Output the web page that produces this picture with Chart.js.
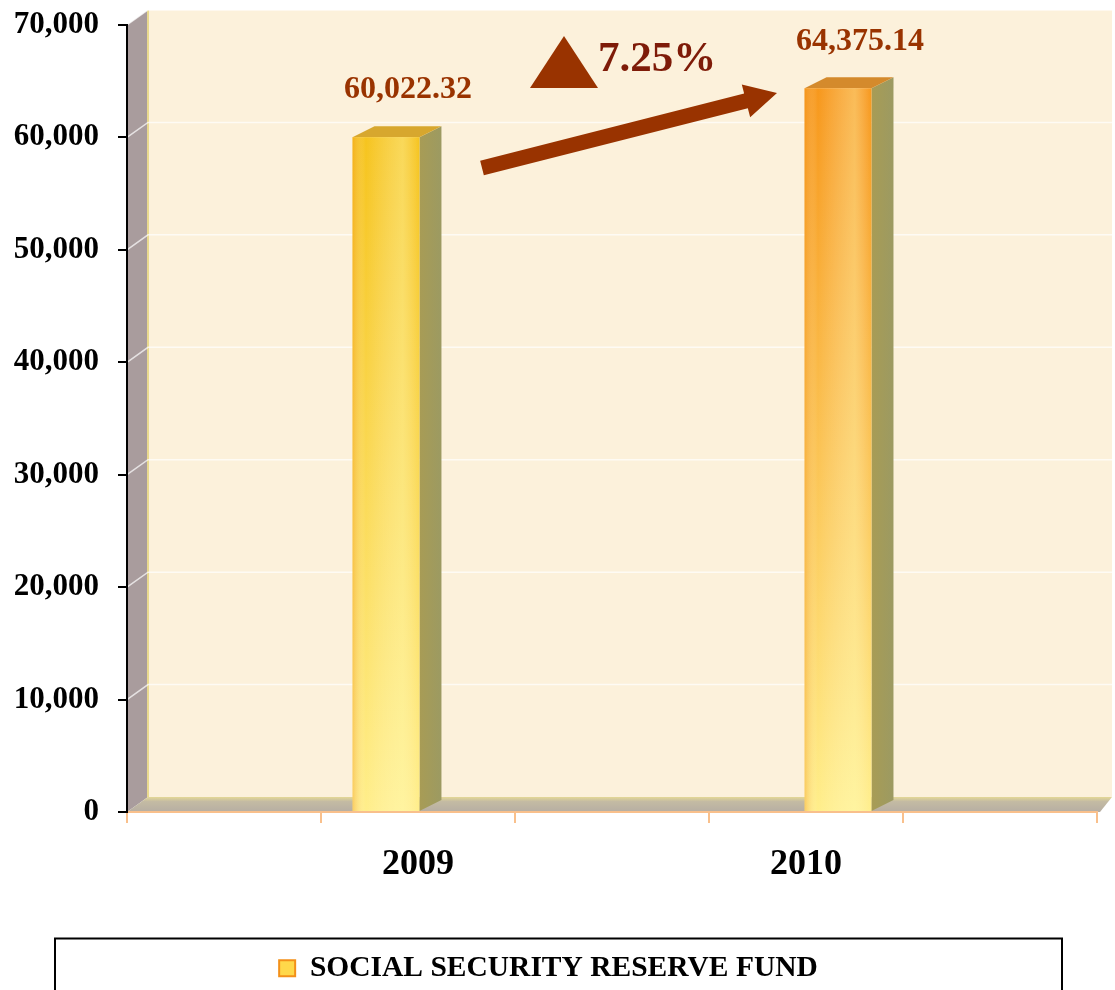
<!DOCTYPE html>
<html>
<head>
<meta charset="utf-8">
<script src="https://cdn.jsdelivr.net/npm/chart.js@4.4.1/dist/chart.umd.min.js"></script>
<style>
  html, body { margin: 0; padding: 0; background: #fff; }
  #wrap { width: 1115px; height: 990px; }
</style>
</head>
<body>
<div id="wrap"><canvas id="fund" width="1115" height="990"></canvas></div>
<script>
const years = ['2009', '2010'];
const fundValues = [60022.32, 64375.14];
const yTicks = [0, 10000, 20000, 30000, 40000, 50000, 60000, 70000];
const seriesName = 'SOCIAL SECURITY RESERVE FUND';

// the original sheet has empty slots round the two years
const labels = ['', years[0], '', years[1], ''];
const values = [null, fundValues[0], null, fundValues[1], null];

const serif = "'Liberation Serif', 'Times New Roman', serif";
Chart.defaults.font.family = serif;

const DX = 21, DY = -15;     // wall depth
const BDX = 22, BDY = -11;   // bar depth
const SPREAD = 1.165;        // perspective spread of bars
const barTops = ['#F6C41E', '#F7981C'];
const barRoofs = ['#D7A72E', '#D48A2C'];

const walls = {
  id: 'walls',
  beforeDraw(chart) {
    const { ctx, chartArea: a, scales: { y } } = chart;
    const r = a.right + 15;
    ctx.save();
    // back wall
    ctx.fillStyle = '#FCF1DB';
    ctx.fillRect(a.left + DX, a.top + DY, r - a.left - DX, a.bottom - a.top);
    // left wall
    ctx.fillStyle = '#A99C9D';
    ctx.beginPath();
    ctx.moveTo(a.left, a.top);
    ctx.lineTo(a.left + DX, a.top + DY);
    ctx.lineTo(a.left + DX, a.bottom + DY);
    ctx.lineTo(a.left, a.bottom);
    ctx.closePath();
    ctx.fill();
    ctx.strokeStyle = '#E9D98E';
    ctx.lineWidth = 2;
    ctx.beginPath();
    ctx.moveTo(a.left + DX, a.top + DY);
    ctx.lineTo(a.left + DX, a.bottom + DY);
    ctx.stroke();
    // gridlines
    ctx.strokeStyle = 'rgba(255,255,255,0.7)';
    ctx.lineWidth = 1.5;
    yTicks.forEach(v => {
      if (v === 0) return;
      const py = y.getPixelForValue(v);
      ctx.beginPath();
      ctx.moveTo(a.left, py);
      ctx.lineTo(a.left + DX, py + DY);
      ctx.lineTo(r, py + DY);
      ctx.stroke();
    });
    // floor
    const g = ctx.createLinearGradient(0, a.bottom + DY, 0, a.bottom);
    g.addColorStop(0, '#E4D896');
    g.addColorStop(0.3, '#C4BBA3');
    g.addColorStop(1, '#B6AEA3');
    ctx.fillStyle = g;
    ctx.beginPath();
    ctx.moveTo(a.left, a.bottom);
    ctx.lineTo(a.left + DX, a.bottom + DY);
    ctx.lineTo(r, a.bottom + DY);
    ctx.lineTo(a.right + 3, a.bottom);
    ctx.closePath();
    ctx.fill();
    ctx.restore();
  }
};

const bars3d = {
  id: 'bars3d',
  afterDatasetsDraw(chart) {
    const { ctx, chartArea: a } = chart;
    const cx = (a.left + a.right) / 2;
    let k = 0;
    chart.getDatasetMeta(0).data.forEach((bar, i) => {
      const v = values[i];
      if (v == null) return;
      const { x, y, base, width } = bar.getProps(['x', 'y', 'base', 'width'], true);
      const mid = cx + (x - cx) * SPREAD;
      const x0 = mid - width / 2, x1 = mid + width / 2;
      ctx.save();
      // side
      const sg = ctx.createLinearGradient(x1, 0, x1 + BDX, 0);
      sg.addColorStop(0, '#A89C55');
      sg.addColorStop(1, '#9C9A62');
      ctx.fillStyle = sg;
      ctx.beginPath();
      ctx.moveTo(x1, y);
      ctx.lineTo(x1 + BDX, y + BDY);
      ctx.lineTo(x1 + BDX, base + BDY);
      ctx.lineTo(x1, base);
      ctx.closePath();
      ctx.fill();
      // roof
      ctx.fillStyle = barRoofs[k];
      ctx.beginPath();
      ctx.moveTo(x0, y);
      ctx.lineTo(x0 + BDX, y + BDY);
      ctx.lineTo(x1 + BDX, y + BDY);
      ctx.lineTo(x1, y);
      ctx.closePath();
      ctx.fill();
      // front
      const fg = ctx.createLinearGradient(0, y, 0, base);
      fg.addColorStop(0, barTops[k]);
      fg.addColorStop(1, '#FFEE8A');
      ctx.fillStyle = fg;
      ctx.fillRect(x0, y, width, base - y);
      const hg = ctx.createLinearGradient(x0, 0, x1, 0);
      hg.addColorStop(0, 'rgba(240,140,20,0.35)');
      hg.addColorStop(0.2, 'rgba(255,255,255,0)');
      hg.addColorStop(0.75, 'rgba(255,255,200,0.35)');
      hg.addColorStop(1, 'rgba(255,255,255,0)');
      ctx.fillStyle = hg;
      ctx.fillRect(x0, y, width, base - y);
      // value label
      ctx.fillStyle = '#993300';
      ctx.font = 'bold 32px ' + serif;
      ctx.textAlign = 'center';
      ctx.textBaseline = 'middle';
      ctx.fillText(v.toLocaleString('en-US', { minimumFractionDigits: 2 }), mid + BDX, y - 47);
      ctx.restore();
      k++;
    });
  }
};

const growthNote = {
  id: 'growthNote',
  afterDraw(chart) {
    const { ctx, chartArea: a } = chart;
    const growth = (fundValues[1] / fundValues[0] - 1) * 100;
    ctx.save();
    ctx.fillStyle = '#993300';
    // triangle
    ctx.beginPath();
    ctx.moveTo(a.left + 403, a.top + 63);
    ctx.lineTo(a.left + 471, a.top + 63);
    ctx.lineTo(a.left + 437, a.top + 11);
    ctx.closePath();
    ctx.fill();
    // arrow
    const sx = a.left + 355, sy = a.top + 143, ex = a.left + 650, ey = a.top + 68;
    const ang = Math.atan2(ey - sy, ex - sx);
    const hl = 32, hw = 17, sw = 7.5;
    const bx = ex - hl * Math.cos(ang), by = ey - hl * Math.sin(ang);
    const nx = -Math.sin(ang), ny = Math.cos(ang);
    ctx.beginPath();
    ctx.moveTo(sx + nx * sw, sy + ny * sw);
    ctx.lineTo(bx + nx * sw, by + ny * sw);
    ctx.lineTo(bx + nx * hw, by + ny * hw);
    ctx.lineTo(ex, ey);
    ctx.lineTo(bx - nx * hw, by - ny * hw);
    ctx.lineTo(bx - nx * sw, by - ny * sw);
    ctx.lineTo(sx - nx * sw, sy - ny * sw);
    ctx.closePath();
    ctx.fill();
    // percent
    ctx.fillStyle = '#7E1B08';
    ctx.font = 'bold 43px ' + serif;
    ctx.textAlign = 'left';
    ctx.textBaseline = 'middle';
    ctx.fillText(growth.toFixed(2) + '%', a.left + 471, a.top + 35);
    // legend frame
    ctx.strokeStyle = '#000';
    ctx.lineWidth = 2;
    ctx.strokeRect(55, chart.legend.top - 5, 1007, 120);
    ctx.restore();
  }
};

new Chart(document.getElementById('fund'), {
  type: 'bar',
  data: {
    labels: labels,
    datasets: [{
      label: seriesName,
      data: values,
      backgroundColor: 'rgba(0,0,0,0)',
      borderWidth: 0,
      barPercentage: 0.345,
      categoryPercentage: 1
    }]
  },
  options: {
    responsive: false,
    animation: false,
    layout: { padding: { top: 25, right: 18, left: 0, bottom: -3 } },
    scales: {
      x: {
        grid: { offset: true, drawOnChartArea: false, color: '#F9C08C', tickLength: 11, lineWidth: 2 },
        border: { color: '#F9C08C', width: 2 },
        ticks: { color: '#000', font: { size: 36, weight: 'bold' }, padding: 20, maxRotation: 0, autoSkip: false },
        afterFit(s) { s.height = 131.5; }
      },
      y: {
        min: 0,
        max: 70000,
        afterBuildTicks(s) { s.ticks = yTicks.map(v => ({ value: v })); },
        ticks: { color: '#000', font: { size: 31, weight: 'bold' }, padding: 19,
                 callback: v => v.toLocaleString('en-US') },
        grid: { drawOnChartArea: false, color: '#000', tickLength: 9, lineWidth: 2 },
        border: { color: '#000', width: 2 },
        afterFit(s) { s.width = 127; s.paddingTop = 0; s.paddingBottom = 0; }
      }
    },
    plugins: {
      tooltip: { enabled: false },
      legend: {
        position: 'bottom',
        labels: {
          color: '#000',
          font: { size: 29.5, weight: 'bold' },
          boxWidth: 16,
          boxHeight: 16,
          padding: 10,
          generateLabels: () => [{
            text: seriesName, fillStyle: '#FFD84A', strokeStyle: '#F39019', lineWidth: 2, datasetIndex: 0
          }]
        }
      }
    }
  },
  plugins: [walls, bars3d, growthNote]
});
</script>
</body>
</html>
